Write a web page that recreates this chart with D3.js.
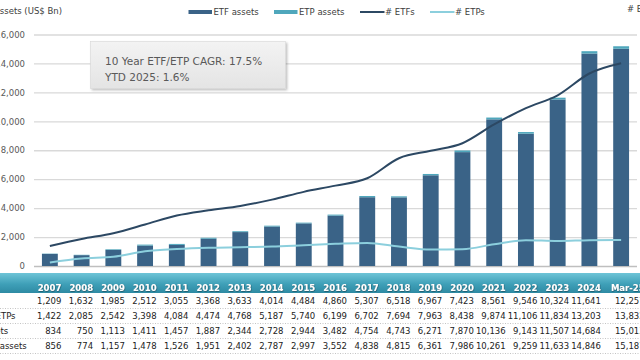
<!DOCTYPE html>
<html>
<head>
<meta charset="utf-8">
<script src="https://cdn.jsdelivr.net/npm/d3@7"></script>
<style>
	html, body { margin: 0; padding: 0; background: #fff; overflow: hidden; }
	svg { display: block; font-family: "DejaVu Sans", Verdana, sans-serif; }
</style>
</head>
<body>
<svg id="chart" width="640" height="360"></svg>
<script>
// chart data
var years = ["2007", "2008", "2009", "2010", "2011", "2012", "2013", "2014", "2015", "2016",
	"2017", "2018", "2019", "2020", "2021", "2022", "2023", "2024", "Mar-25"];
var numEtfs = [1209, 1632, 1985, 2512, 3055, 3368, 3633, 4014, 4484, 4860,
	5307, 6518, 6967, 7423, 8561, 9546, 10324, 11641, 12257];
var numEtfsEtps = [1422, 2085, 2542, 3398, 4084, 4474, 4768, 5187, 5740, 6199,
	6702, 7694, 7963, 8438, 9874, 11106, 11834, 13203, 13832];
var etfAssets = [834, 750, 1113, 1411, 1457, 1887, 2344, 2728, 2944, 3482,
	4754, 4743, 6271, 7870, 10136, 9143, 11507, 14684, 15013];
var etfEtpAssets = [856, 774, 1157, 1478, 1526, 1951, 2402, 2787, 2997, 3552,
	4838, 4815, 6361, 7986, 10261, 9259, 11633, 14846, 15187];
var numEtps = [213, 453, 557, 886, 1029, 1106, 1135, 1173, 1256, 1339,
	1395, 1176, 996, 1015, 1313, 1560, 1510, 1562, 1575];
var leftTicks = [0, 2000, 4000, 6000, 8000, 10000, 12000, 14000, 16000];
var rowLabels = ["# ETFs", "# ETFs/ETPs", "ETF assets", "ETF/ETP assets"];
var rowValues = [numEtfs, numEtfsEtps, etfAssets, etfEtpAssets];
var boxLines = ["10 Year ETF/ETP CAGR: 17.5%", "YTD 2025: 1.6%"];

var C_ETF = "#3a6387", C_ETP = "#4fa7bc", C_LINE = "#2c4863", C_LINE2 = "#8ccfdd";

var svg = d3.select("#chart");
var defs = svg.append("defs");

var hg = defs.append("linearGradient").attr("id", "hdr").attr("x1", 0).attr("y1", 0).attr("x2", 0).attr("y2", 1);
hg.append("stop").attr("offset", "0%").attr("stop-color", "#6ec4d7");
hg.append("stop").attr("offset", "55%").attr("stop-color", "#3fa0b8");
hg.append("stop").attr("offset", "100%").attr("stop-color", "#2e8aa3");

var bg = defs.append("linearGradient").attr("id", "boxg").attr("x1", 0).attr("y1", 0).attr("x2", 0).attr("y2", 1);
bg.append("stop").attr("offset", "0%").attr("stop-color", "#f3f3f3");
bg.append("stop").attr("offset", "100%").attr("stop-color", "#e4e4e4");

defs.append("filter").attr("id", "shadow").attr("x", "-10%").attr("y", "-10%").attr("width", "130%").attr("height", "140%")
	.append("feDropShadow").attr("dx", 1.5).attr("dy", 1.5).attr("stdDeviation", 1.2)
	.attr("flood-color", "#000").attr("flood-opacity", 0.25);

defs.append("filter").attr("id", "glow").attr("x", "-20%").attr("y", "-40%").attr("width", "140%").attr("height", "180%")
	.append("feDropShadow").attr("dx", 0.4).attr("dy", 0.6).attr("stdDeviation", 0.7)
	.attr("flood-color", "#15404e").attr("flood-opacity", 0.9);

// scales
var x = d3.scaleBand().domain(years).range([34, 637]).paddingInner(0.5).paddingOuter(0.25);
var y = d3.scaleLinear().domain([0, 16000]).range([266, 34.5]);
var yRight = d3.scaleLinear().domain([0, 14000]).range([266, 34.5]);
var cx = function(d) { return x(d) + x.bandwidth() / 2; };

// gridlines + left axis
var yAxis = d3.axisLeft(y).tickValues(leftTicks).tickFormat(d3.format(",")).tickSize(-603).tickPadding(9);
var ga = svg.append("g").attr("transform", "translate(34,0)").call(yAxis);
ga.select(".domain").remove();
ga.selectAll(".tick line").attr("stroke", "#d9d9d9").attr("stroke-width", 1.3);
ga.selectAll(".tick").filter(function(d) { return d === 0; }).select("line").attr("stroke", "#bfbfbf");
ga.selectAll(".tick text").attr("fill", "#595959").attr("font-size", "8.5px")
	.attr("font-family", "DejaVu Sans, sans-serif");

// axis titles (both partly outside the frame)
svg.append("text").attr("x", -6).attr("y", 14).attr("font-size", "8.5px").attr("fill", "#404040").text("Assets (US$ Bn)");
svg.append("text").attr("x", 627).attr("y", 12).attr("font-size", "8.5px").attr("fill", "#404040").text("# ETFs/ETPs");

// stacked bars
var bars = svg.append("g");
bars.selectAll("rect.etf").data(years).enter().append("rect")
	.attr("x", function(d) { return x(d); })
	.attr("width", x.bandwidth())
	.attr("y", function(d, i) { return y(etfAssets[i]); })
	.attr("height", function(d, i) { return y(0) - y(etfAssets[i]); })
	.attr("fill", C_ETF);
bars.selectAll("rect.etp").data(years).enter().append("rect")
	.attr("x", function(d) { return x(d); })
	.attr("width", x.bandwidth())
	.attr("y", function(d, i) { return y(etfEtpAssets[i]); })
	.attr("height", function(d, i) { return y(etfAssets[i]) - y(etfEtpAssets[i]); })
	.attr("fill", C_ETP);

// count lines on the right axis
function drawLine(vals, color) {
	var line = d3.line()
		.x(function(d, i) { return cx(years[i]); })
		.y(function(d) { return yRight(d); })
		.curve(d3.curveMonotoneX);
	svg.append("path").datum(vals).attr("d", line)
		.attr("fill", "none").attr("stroke", color).attr("stroke-width", 2);
}
drawLine(numEtps, C_LINE2);
drawLine(numEtfs, C_LINE);

// legend
var legend = [
	{ name: "ETF assets", color: C_ETF, type: "bar", x: 188.5 },
	{ name: "ETP assets", color: C_ETP, type: "bar", x: 274 },
	{ name: "# ETFs", color: C_LINE, type: "line", x: 360 },
	{ name: "# ETPs", color: C_LINE2, type: "line", x: 430 }
];
var lg = svg.append("g");
legend.forEach(function(l) {
	if (l.type === "bar") {
		lg.append("rect").attr("x", l.x).attr("y", 10).attr("width", 23.5).attr("height", 4).attr("fill", l.color);
	} else {
		lg.append("line").attr("x1", l.x).attr("x2", l.x + 24.5).attr("y1", 12).attr("y2", 12)
			.attr("stroke", l.color).attr("stroke-width", 2);
	}
	lg.append("text").attr("x", l.x + 25).attr("y", 15).attr("font-size", "8.5px").attr("fill", "#404040").text(l.name);
});

// cagr box
svg.append("rect").attr("x", 90.5).attr("y", 41.5).attr("width", 195).attr("height", 47)
	.attr("fill", "url(#boxg)").attr("stroke", "#d6d6d6").attr("stroke-width", 0.6)
	.attr("filter", "url(#shadow)");
boxLines.forEach(function(t, i) {
	svg.append("text").attr("x", 105).attr("y", 64.5 + i * 16).attr("font-size", "10.5px")
		.attr("fill", "#595959").text(t);
});

// data table, last column is a bit wider
var colRight = function(d) { return cx(d) + 11.5 + (d === "Mar-25" ? 12 : 0); };
svg.append("rect").attr("x", 0).attr("y", 273).attr("width", 640).attr("height", 20).attr("fill", "url(#hdr)");
svg.append("g").selectAll("text").data(years).enter().append("text")
	.attr("x", colRight).attr("y", 290.5)
	.attr("text-anchor", "end").attr("font-size", "8.5px").attr("font-weight", "bold")
	.attr("fill", "#fff").attr("filter", "url(#glow)")
	.text(function(d) { return d; });

var rowTop = 293, rowH = 15;
var fmt = d3.format(",");
rowLabels.forEach(function(label, r) {
	var g = svg.append("g");
	var base = rowTop + r * rowH + 10.8;
	g.append("text").attr("x", -37).attr("y", base).attr("font-size", "8.5px").attr("fill", "#222").text(label);
	g.selectAll("text.v").data(years).enter().append("text")
		.attr("x", colRight).attr("y", base)
		.attr("text-anchor", "end").attr("font-size", "8.5px").attr("fill", "#222")
		.text(function(d, i) { return fmt(rowValues[r][i]); });
	g.append("line").attr("x1", 0).attr("x2", 640)
		.attr("y1", rowTop + (r + 1) * rowH + 0.5).attr("y2", rowTop + (r + 1) * rowH + 0.5)
		.attr("stroke", "#b5b5b5").attr("stroke-width", 0.8).attr("stroke-dasharray", "1,1.5");
});
</script>
</body>
</html>
